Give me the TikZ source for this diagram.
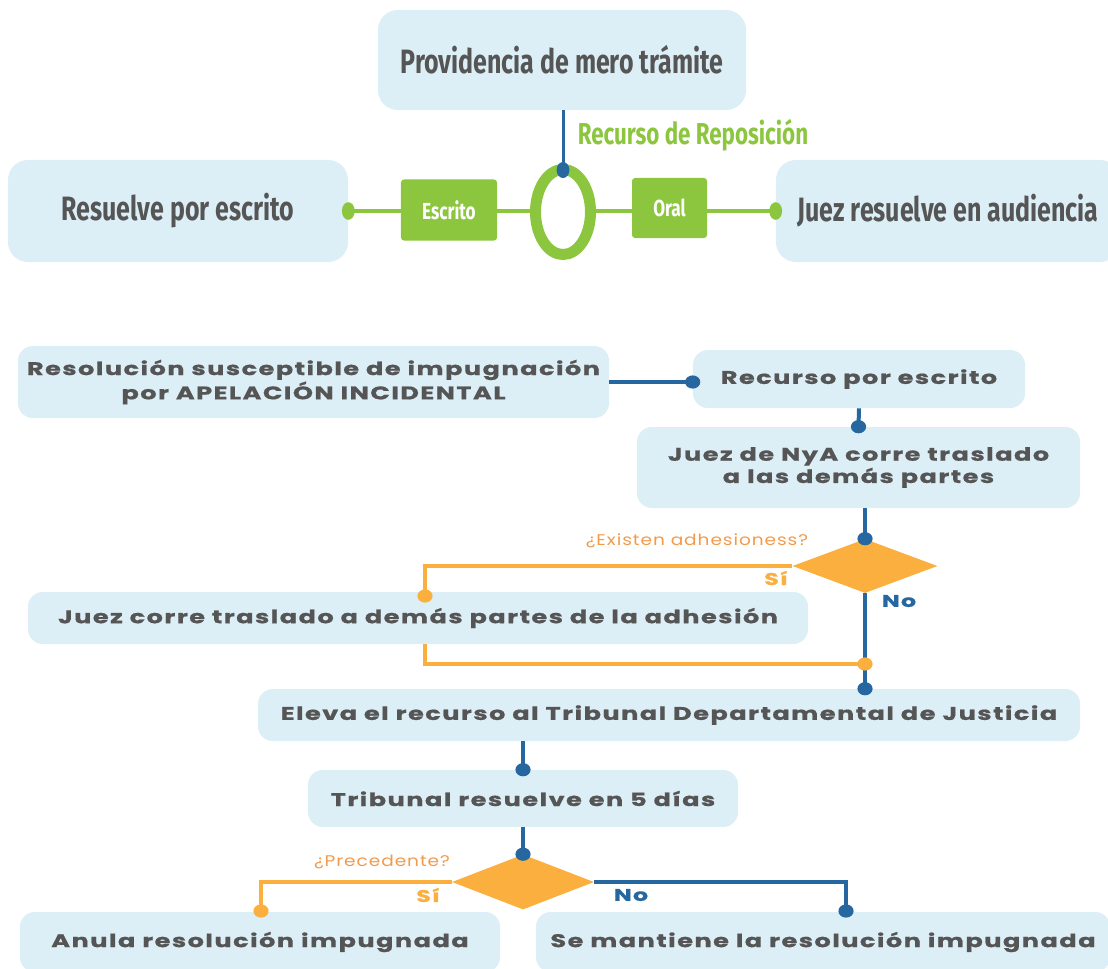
\documentclass[tikz,border=0pt]{standalone}
\usepackage{fontspec}
\usetikzlibrary{shapes.geometric}
\newfontfamily\condf[FakeStretch=0.74]{Fira Sans}
\newfontfamily\widef[FakeStretch=1.4,LetterSpace=8,BoldFeatures={FakeBold=0.8}]{Poppins}
\newfontfamily\labf[FakeStretch=1.2,LetterSpace=6]{Poppins}
\definecolor{boxc}{HTML}{DCEEF6}
\definecolor{txt}{HTML}{555555}
\definecolor{blu}{HTML}{25679E}
\definecolor{grn}{HTML}{8CC63F}
\definecolor{orng}{HTML}{FBAF3F}
\definecolor{orlab}{HTML}{F29A4A}
\begin{document}
\begin{tikzpicture}[x=0.025cm,y=-0.025cm,
  tbox/.style={fill=boxc, rounded corners=0.5cm, text=txt, inner sep=0,
    font=\condf\bfseries\fontsize{24}{27}\selectfont},
  gbox/.style={fill=grn, rounded corners=0.075cm, text=white, inner sep=0,
    font=\condf\bfseries\fontsize{16.5}{18}\selectfont},
  bbox/.style={fill=boxc, rounded corners=0.375cm, text=txt, inner sep=0, align=center,
    font=\widef\bfseries\fontsize{13}{15.8}\selectfont},
  dec/.style={diamond, fill=orng, inner sep=0},
  gline/.style={draw=grn, line width=0.11cm},
  bline/.style={draw=blu, line width=0.1cm},
  tline/.style={draw=blu, line width=0.075cm},
  oline/.style={draw=orng, line width=0.1cm},
  lab/.style={text=orlab, inner sep=0, font=\labf\fontsize{11}{13}\selectfont},
  sib/.style={text=orng, inner sep=0, font=\widef\bfseries\fontsize{12}{14}\selectfont},
  nob/.style={text=blu, inner sep=0, font=\widef\bfseries\fontsize{12}{14}\selectfont},
  gdot/.style={fill=grn},
  bdot/.style={fill=blu},
  odot/.style={fill=orng}]
\useasboundingbox (0,0) rectangle (1108,968);
\clip (0,0) rectangle (1108,968);
% ---------- top part ----------
\node[tbox, minimum width=9.2cm, minimum height=2.5cm] (prov) at (562,60) {Providencia de mero trámite};
\node[tbox, minimum width=8.5cm, minimum height=2.55cm] (resesc) at (178,211) {Resuelve por escrito};
\node[tbox, minimum width=8.6cm, minimum height=2.55cm] (juez) at (948,211) {Juez resuelve en audiencia};
\node[gbox, minimum width=2.4cm, minimum height=1.525cm] (escr) at (449,210) {Escrito};
\node[gbox, minimum width=1.875cm, minimum height=1.5cm] (oral) at (669.5,208) {Oral};
\node[ellipse, draw=grn, line width=0.275cm, minimum width=1.375cm, minimum height=2.125cm, inner sep=0] (ring) at (563,212) {};
\node[text=grn, inner sep=0, font=\condf\bfseries\fontsize{21.5}{24}\selectfont] (rr) at (693,135) {Recurso de Reposición};
\coordinate (rt) at (563,170);
\draw[gline] (resesc.east) -- (escr.west |- resesc.east);
\draw[gline] (escr.east |- resesc.east) -- (ring.west |- resesc.east);
\draw[gline] (ring.east |- resesc.east) -- (oral.west |- resesc.east);
\draw[gline] (oral.east |- resesc.east) -- (juez.west);
\fill[gdot] (resesc.east) ellipse[x radius=0.16cm, y radius=0.22cm];
\fill[gdot] (juez.west) ellipse[x radius=0.16cm, y radius=0.22cm];
\draw[tline] (prov.south -| rt) -- (rt);
\fill[bdot] (rt) ellipse[x radius=0.16cm, y radius=0.2cm];
% ---------- bottom part ----------
\node[bbox, minimum width=14.775cm, minimum height=1.8cm] (reso) at (313.5,382) {Resolución susceptible de impugnación\\por APELACIÓN INCIDENTAL};
\node[bbox, minimum width=8.3cm, minimum height=1.45cm] (recesc) at (859,379) {Recurso por escrito};
\node[bbox, minimum width=11.075cm, minimum height=2.025cm] (juezny) at (858.5,467.5) {Juez de NyA corre traslado\\a las demás partes};
\node[dec, minimum width=3.625cm, minimum height=1.35cm] (d1) at (865,566) {};
\node[bbox, minimum width=19.5cm, minimum height=1.3cm] (adh) at (418,618) {Juez corre traslado a demás partes de la adhesión};
\node[bbox, minimum width=20.55cm, minimum height=1.3cm] (eleva) at (669,715) {Eleva el recurso al Tribunal Departamental de Justicia};
\node[bbox, minimum width=10.75cm, minimum height=1.425cm] (trib) at (523,798.5) {Tribunal resuelve en 5 días};
\node[dec, minimum width=3.55cm, minimum height=1.375cm] (d2) at (523,882) {};
\node[bbox, minimum width=12cm, minimum height=1.5cm] (anula) at (260,942) {Anula resolución impugnada};
\node[bbox, minimum width=14.35cm, minimum height=1.5cm] (mant) at (823,942) {Se mantiene la resolución impugnada};
\node[lab] (q1) at (697,541) {¿Existen adhesioness?};
\node[sib] (si1) at (776,578) {Sí};
\node[nob] (no1) at (899,601) {No};
\node[lab] (q2) at (382,862) {¿Precedente?};
\node[sib] (si2) at (428,895) {Sí};
\node[nob] (no2) at (631,895) {No};
\coordinate (a1) at (425,596);
\coordinate (m1) at (865,664);
\coordinate (a2) at (261,911);
\coordinate (b2) at (846,911);
\draw[bline] (reso.east) -- (reso.east -| recesc.west);
\draw[bline] (recesc.south) -- (juezny.north);
\draw[bline] (d1.north |- juezny.south) -- (d1.north);
\draw[oline] (d1.west) -| (a1);
\draw[bline] (d1.south) -- (d1.south |- eleva.north);
\draw[oline] (a1 |- adh.south) |- (m1);
\draw[bline] (trib.north |- eleva.south) -- (trib.north);
\draw[bline] (trib.south) -- (d2.north);
\draw[oline] (d2.west) -| (a2);
\draw[bline] (d2.east) -| (b2);
\fill[bdot] (reso.east -| recesc.west) ellipse[x radius=0.19cm, y radius=0.165cm];
\fill[bdot] (juezny.north) ellipse[x radius=0.19cm, y radius=0.165cm];
\fill[bdot] (d1.north) ellipse[x radius=0.19cm, y radius=0.165cm];
\fill[odot] (a1) ellipse[x radius=0.19cm, y radius=0.165cm];
\fill[bdot] (d1.south |- eleva.north) ellipse[x radius=0.19cm, y radius=0.165cm];
\fill[odot] (m1) ellipse[x radius=0.19cm, y radius=0.165cm];
\fill[bdot] (trib.north) ellipse[x radius=0.19cm, y radius=0.165cm];
\fill[bdot] (d2.north) ellipse[x radius=0.19cm, y radius=0.165cm];
\fill[odot] (a2) ellipse[x radius=0.19cm, y radius=0.165cm];
\fill[bdot] (b2) ellipse[x radius=0.19cm, y radius=0.165cm];
\end{tikzpicture}
\end{document}
